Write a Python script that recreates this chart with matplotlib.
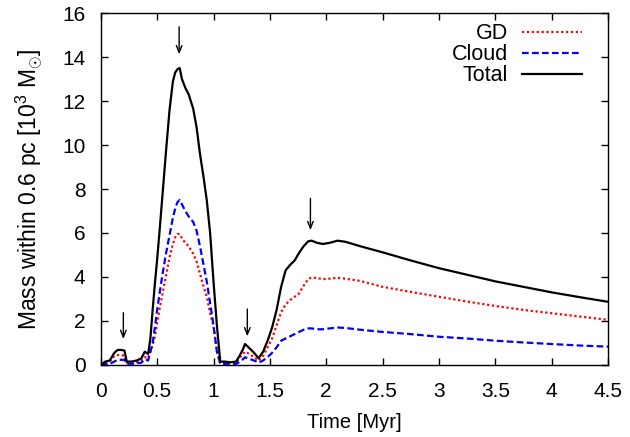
import numpy as np
import matplotlib
matplotlib.use("Agg")
from matplotlib import pyplot as plt

plt.rcParams['font.family'] = ['Liberation Sans', 'DejaVu Sans']
plt.rcParams['mathtext.fontset'] = 'custom'
plt.rcParams['mathtext.rm'] = 'Liberation Sans'
plt.rcParams['mathtext.it'] = 'Liberation Sans'

# time grid [Myr]
time = [0.0, 0.04, 0.08, 0.12, 0.15, 0.18, 0.21, 0.23, 0.27, 0.32, 0.36, 0.39, 0.42, 0.44,
        0.46, 0.48, 0.50, 0.52, 0.55, 0.58, 0.61, 0.64, 0.66, 0.68, 0.70, 0.72, 0.75, 0.78,
        0.82, 0.85, 0.88, 0.91, 0.94, 0.97, 1.00, 1.03, 1.06, 1.10, 1.15, 1.20, 1.23, 1.26,
        1.28, 1.30, 1.33, 1.36, 1.40, 1.44, 1.48, 1.52, 1.56, 1.60, 1.64, 1.68, 1.72, 1.76,
        1.80, 1.84, 1.87, 1.92, 1.97, 2.03, 2.10, 2.17, 2.3, 2.5, 2.75, 3.0, 3.25, 3.5,
        3.75, 4.0, 4.25, 4.5]

total = [0.0, 0.15, 0.2, 0.55, 0.68, 0.68, 0.65, 0.15, 0.15, 0.2, 0.3, 0.6, 0.5, 1.2,
         2.5, 3.7, 4.8, 6.0, 7.9, 9.8, 11.6, 12.9, 13.3, 13.45, 13.5, 13.0, 12.6, 12.3,
         11.65, 10.8, 9.6, 8.6, 7.5, 6.0, 3.8, 1.8, 0.15, 0.15, 0.12, 0.15, 0.4, 0.7,
         0.95, 0.85, 0.7, 0.55, 0.3, 0.6, 1.1, 1.7, 2.5, 3.55, 4.3, 4.55, 4.75, 5.1,
         5.4, 5.62, 5.65, 5.55, 5.5, 5.55, 5.65, 5.6, 5.4, 5.12, 4.75, 4.4, 4.1, 3.8,
         3.55, 3.3, 3.08, 2.87]

gd = [0.0, 0.1, 0.15, 0.4, 0.45, 0.45, 0.42, 0.1, 0.1, 0.12, 0.2, 0.35, 0.3, 0.6,
      0.9, 1.3, 1.9, 2.5, 3.3, 4.1, 4.9, 5.5, 5.8, 5.95, 5.95, 5.75, 5.55, 5.4,
      5.05, 4.7, 4.15, 3.6, 3.1, 2.35, 1.75, 0.7, 0.1, 0.1, 0.08, 0.1, 0.3, 0.5,
      0.6, 0.55, 0.45, 0.35, 0.2, 0.4, 0.8, 1.2, 1.8, 2.4, 2.75, 2.95, 3.1, 3.25,
      3.6, 3.9, 3.98, 3.95, 3.9, 3.92, 3.96, 3.92, 3.82, 3.55, 3.32, 3.1, 2.88, 2.68,
      2.5, 2.35, 2.2, 2.05]

cloud = [0.0, 0.05, 0.05, 0.15, 0.23, 0.23, 0.23, 0.05, 0.05, 0.08, 0.1, 0.25, 0.2, 0.6,
         1.0, 1.7, 2.5, 3.2, 4.2, 5.1, 5.9, 6.7, 7.1, 7.4, 7.5, 7.3, 7.0, 6.75,
         6.5, 6.1, 5.4, 4.6, 3.8, 2.8, 1.8, 0.6, 0.05, 0.05, 0.05, 0.05, 0.12, 0.25,
         0.35, 0.3, 0.25, 0.2, 0.1, 0.2, 0.35, 0.55, 0.8, 1.1, 1.2, 1.3, 1.4, 1.5,
         1.6, 1.66, 1.66, 1.62, 1.62, 1.66, 1.7, 1.68, 1.6, 1.5, 1.4, 1.28, 1.2, 1.1,
         1.02, 0.95, 0.88, 0.83]

# arrows marking the peaks
arrow_x = [0.2, 0.695, 1.30, 1.86]
arrow_top = [2.5, 15.5, 2.67, 7.7]
arrow_tip = [1.05, 14.0, 1.17, 6.0]

fig = plt.figure(figsize=(6.3, 4.37), dpi=100)
ax = fig.add_axes([0.160, 0.165, 0.805, 0.805])

ax.plot(time, gd, color='red', lw=1.6, linestyle=(0, (1, 1.2)), label='GD')
ax.plot(time, cloud, color='blue', lw=1.6, linestyle=(0, (3, 1.5)), label='Cloud')
ax.plot(time, total, color='black', lw=1.6, label='Total')

for x, y0, y1 in zip(arrow_x, arrow_top, arrow_tip):
    ax.annotate('', xy=(x, y1), xytext=(x, y0),
                arrowprops=dict(arrowstyle='->,head_length=0.5,head_width=0.2', color='black', lw=1.0))

ax.set_xlim(0, 4.5)
ax.set_ylim(0, 16)
ax.set_xticks(np.arange(0, 4.51, 0.5))
ax.set_xticklabels(['0', '0.5', '1', '1.5', '2', '2.5', '3', '3.5', '4', '4.5'])
ax.set_yticks(np.arange(0, 17, 2))
ax.tick_params(direction='in', top=True, right=True, length=5, width=1, labelsize=15)
ax.tick_params(axis='x', pad=12)
ax.tick_params(axis='y', pad=11)
for s in ax.spines.values():
    s.set_linewidth(1.0)

ax.set_xlabel('Time [Myr]', fontsize=14.5, labelpad=9)
ax.set_ylabel(r'Mass within 0.6 pc [10$^3$ M$_{\odot}$]', fontsize=16.5, labelpad=12)

leg = ax.legend(loc='upper right', bbox_to_anchor=(0.979, 1.014), frameon=False, fontsize=15.5,
                markerfirst=False, handlelength=2.8, handletextpad=0.65, labelspacing=0.0,
                borderaxespad=0.3)

fig.savefig('out.png', dpi=100)
